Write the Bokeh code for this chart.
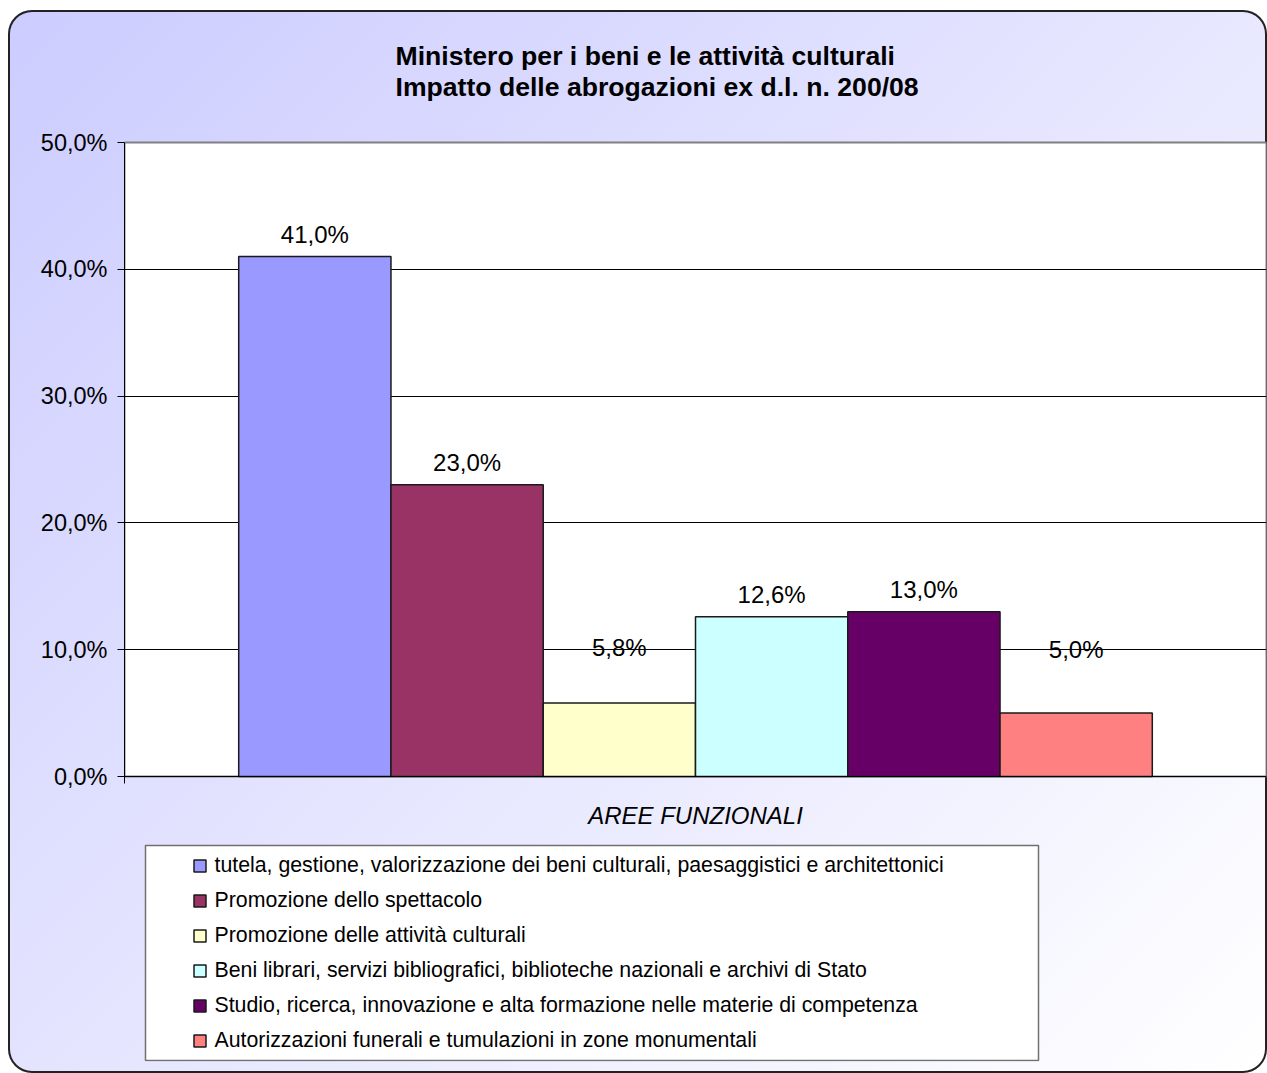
from bokeh.plotting import figure
from bokeh.models import (Range1d, FixedTicker, ColumnDataSource, LabelSet, Label,
                          Legend, LegendItem, BoxAnnotation)
from bokeh.core.properties import value
from bokeh.embed import file_html
from bokeh.resources import INLINE

# ---------------- data ----------------
title_lines = ["Ministero per i beni e le attività culturali",
               "Impatto delle abrogazioni ex d.l. n. 200/08"]
categories = [
    "tutela, gestione, valorizzazione dei beni culturali, paesaggistici e architettonici",
    "Promozione dello spettacolo",
    "Promozione delle attività culturali",
    "Beni librari, servizi bibliografici, biblioteche nazionali e archivi di Stato",
    "Studio, ricerca, innovazione e alta formazione nelle materie di competenza",
    "Autorizzazioni funerali e tumulazioni in zone monumentali",
]
values = [41.0, 23.0, 5.8, 12.6, 13.0, 5.0]
value_labels = ["41,0%", "23,0%", "5,8%", "12,6%", "13,0%", "5,0%"]
y_ticks = [0, 10, 20, 30, 40, 50]
y_tick_labels = ["0,0%", "10,0%", "20,0%", "30,0%", "40,0%", "50,0%"]
x_axis_title = "AREE FUNZIONALI"

# ---------------- style / layout ----------------
colors = ["#9999FF", "#993366", "#FFFFCC", "#CCFFFF", "#660066", "#FF8080"]
FONT = "Liberation Sans"
OFF_X, OFF_Y = 8, 10            # figure position on the page (css margin)
W, H = 1259, 1063
LEFT, RIGHT, TOP, BOTTOM = 116, 1, 0, 12
FRAME_W = W - LEFT - RIGHT
PAGE_X0 = OFF_X + LEFT          # page x of the 0 of the category axis
PAGE_Y50 = 142                  # page y of the 50 % line
PLOT_H = 634                    # pixel height of the 0..50 % area
PAGE_Y0 = PAGE_Y50 + PLOT_H
Y_MAX = 50
FRAME_TOP_PAGE = OFF_Y + TOP
FRAME_BOTTOM_PAGE = OFF_Y + H - BOTTOM
label_lift_default = 22
label_lift_override = {2: 55, 5: 64}


def dx(px):
    return (px - PAGE_X0) / FRAME_W


def dy(py):
    return (PAGE_Y0 - py) / PLOT_H * Y_MAX


n = len(values)
group_w = 0.8
bar_w = group_w / n
centers = [(1 - group_w) / 2 + (i + 0.5) * bar_w for i in range(n)]
lifts = [label_lift_override.get(i, label_lift_default) for i in range(n)]

source = ColumnDataSource(dict(x=centers, top=values, color=colors,
                               label=value_labels, lift=lifts))

p = figure(width=W, height=H, x_range=Range1d(0, 1),
           y_range=Range1d(dy(FRAME_BOTTOM_PAGE), dy(FRAME_TOP_PAGE)),
           output_backend="svg", toolbar_location=None,
           min_border_left=LEFT, min_border_right=RIGHT,
           min_border_top=TOP, min_border_bottom=BOTTOM)

p.background_fill_color = None
p.border_fill_color = None
p.outline_line_color = None
p.styles = {
    "margin-left": f"{OFF_X}px",
    "margin-top": f"{OFF_Y}px",
    "background": "linear-gradient(135deg, #CCCCFF 0%, #FFFFFF 100%)",
    "border-radius": "24px",
    "box-shadow": "inset 0 0 0 2px #222222",
}

# white plotting area
p.add_layout(BoxAnnotation(left=0, right=1, bottom=0, top=Y_MAX,
                           fill_color="white", fill_alpha=1.0,
                           line_color="#808080", line_alpha=1.0, line_width=2,
                           level="image"))

# grid (inner lines only; the frame edges are drawn by the box and axes)
p.xgrid.visible = False
p.ygrid.ticker = FixedTicker(ticks=y_ticks[1:-1])
p.ygrid.grid_line_color = "black"
p.ygrid.grid_line_width = 1

# y axis
p.yaxis.ticker = FixedTicker(ticks=y_ticks)
p.yaxis.bounds = (dy(PAGE_Y0 + 7), Y_MAX)
p.yaxis.major_label_overrides = {t: s for t, s in zip(y_ticks, y_tick_labels)}
p.yaxis.major_label_text_font = FONT
p.yaxis.major_label_text_font_size = "23.5px"
p.yaxis.major_label_text_color = "black"
p.yaxis.major_tick_out = 7
p.yaxis.major_tick_in = 0
p.yaxis.minor_tick_out = 0
p.yaxis.minor_tick_in = 0
p.yaxis.axis_line_color = "black"
p.yaxis.major_tick_line_color = "black"
p.yaxis.major_label_standoff = 10

# x axis (category axis at 0 %)
p.xaxis.fixed_location = 0
p.xaxis.ticker = FixedTicker(ticks=[])
p.xaxis.major_tick_out = 0
p.xaxis.major_tick_in = 0
p.xaxis.minor_tick_out = 0
p.xaxis.minor_tick_in = 0
p.xaxis.major_label_standoff = 0
p.xaxis.axis_line_color = "black"
p.xaxis.axis_label = x_axis_title
p.xaxis.axis_label_text_font = FONT
p.xaxis.axis_label_text_font_style = "italic"
p.xaxis.axis_label_text_font_size = "24px"
p.xaxis.axis_label_text_color = "black"
p.xaxis.axis_label_standoff = 25

# bars
r = p.vbar(x="x", top="top", bottom=0, width=bar_w, source=source,
           fill_color="color", line_color="#1a1a1a", line_width=1.5)

# value labels
p.add_layout(LabelSet(x="x", y="top", text="label", y_offset="lift", source=source,
                      text_align="center", text_baseline="middle",
                      text_font=value(FONT), text_font_size="24px",
                      text_color="black"))

# title
for line, py in zip(title_lines, [55, 86]):
    p.add_layout(Label(x=dx(395), y=dy(py), text=line, text_align="left",
                       text_baseline="middle", text_font=FONT,
                       text_font_size="26.6px", text_font_style="bold",
                       text_color="black"))

# legend box
p.add_layout(BoxAnnotation(left=dx(145), right=dx(1038), top=dy(845), bottom=dy(1060),
                           fill_color="white", fill_alpha=1.0, line_color="#707070",
                           line_alpha=1.0, line_width=1.5, level="image"))

items = [LegendItem(label=c, renderers=[r], index=i) for i, c in enumerate(categories)]
legend = Legend(items=items, location=(191.5 - PAGE_X0, FRAME_BOTTOM_PAGE - 1058),
                padding=0, spacing=0,
                label_height=35, glyph_height=15, glyph_width=15, label_standoff=8,
                border_line_alpha=0, background_fill_alpha=0,
                label_text_font=FONT, label_text_font_size="21.3px",
                label_text_color="black")
p.add_layout(legend)

open("out.html", "w").write(file_html(p, INLINE))
